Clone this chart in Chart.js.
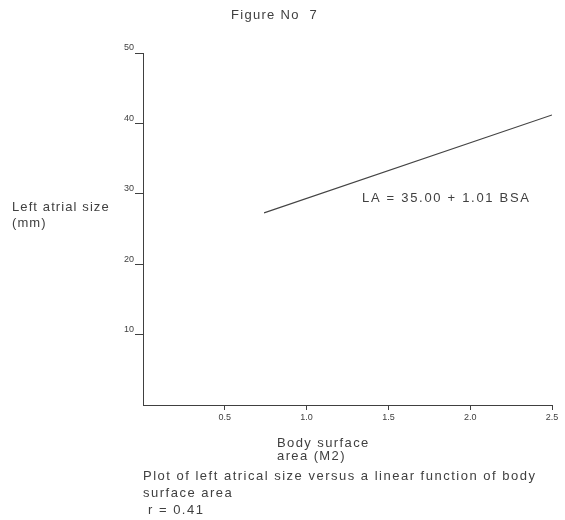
<!DOCTYPE html>
<html>
<head>
<meta charset="utf-8">
<script src="https://cdn.jsdelivr.net/npm/chart.js@4"></script>
<style>
  html, body { margin: 0; padding: 0; background: #fff; }
  #wrap { width: 565px; height: 520px; }
</style>
</head>
<body>
<div id="wrap"><canvas id="myChart" width="565" height="520"></canvas></div>
<script>
// fitted regression line
const lineX = [0.74, 2.5];
const lineY = [27.3, 41.2];

const xTicks = [0.5, 1.0, 1.5, 2.0, 2.5];
const yTicks = [10, 20, 30, 40, 50];

const ink = '#404040';
const font = '"Liberation Sans", Arial, sans-serif';

// loose text of the scanned figure (sp = letter spacing, the scan type runs wide)
const notes = [
  { t: 'Figure No  7', x: 231, y: 15, s: 13, sp: 1.3 },
  { t: 'Left atrial size', x: 12, y: 207, s: 13, sp: 1.1 },
  { t: '(mm)', x: 12, y: 223, s: 13, sp: 1.1 },
  { t: 'LA = 35.00 + 1.01 BSA', x: 362, y: 198, s: 13, sp: 1.7 },
  { t: 'Body surface', x: 277, y: 443, s: 13, sp: 1.4 },
  { t: 'area (M2)', x: 277, y: 456, s: 13, sp: 1.4 },
  { t: 'Plot of left atrical size versus a linear function of body', x: 143, y: 476, s: 13, sp: 1.5 },
  { t: 'surface area', x: 143, y: 493, s: 13, sp: 1.5 },
  { t: 'r = 0.41', x: 148, y: 510, s: 13, sp: 1.5 }
];

const textPlugin = {
  id: 'notes',
  afterDraw(chart) {
    const c = chart.ctx;
    c.save();
    c.fillStyle = ink;
    c.textAlign = 'left';
    c.textBaseline = 'middle';
    notes.forEach(n => {
      c.font = n.s + 'px ' + font;
      c.letterSpacing = n.sp + 'px';
      c.fillText(n.t, n.x, n.y);
    });
    c.restore();
  }
};

const ctx = document.getElementById('myChart').getContext('2d');

new Chart(ctx, {
  type: 'scatter',
  data: {
    datasets: [{
      data: lineX.map((x, i) => ({ x: x, y: lineY[i] })),
      showLine: true,
      borderColor: '#444',
      borderWidth: 1.2,
      pointRadius: 0
    }]
  },
  options: {
    responsive: false,
    animation: false,
    layout: { padding: { left: 103, right: 13, top: 53, bottom: 95 } },
    plugins: { legend: { display: false }, tooltip: { enabled: false } },
    scales: {
      x: {
        type: 'linear',
        min: 0, max: 2.5,
        afterFit: s => { s.height = 20; },
        afterBuildTicks: s => { s.ticks = xTicks.map(v => ({ value: v })); },
        grid: { drawOnChartArea: false, tickLength: 5, color: ink },
        border: { color: ink, width: 1 },
        ticks: {
          color: ink,
          font: { family: font, size: 9 },
          padding: 2,
          maxRotation: 0,
          callback: v => v.toFixed(1)
        }
      },
      y: {
        type: 'linear',
        min: 0, max: 50,
        afterFit: s => { s.width = 40; },
        afterBuildTicks: s => { s.ticks = yTicks.map(v => ({ value: v })); },
        grid: { drawOnChartArea: false, tickLength: 8, color: ink },
        border: { color: ink, width: 1 },
        ticks: {
          color: ink,
          font: { family: font, size: 9 },
          padding: 1,
          labelOffset: -5,
          callback: v => String(v)
        }
      }
    }
  },
  plugins: [textPlugin]
});
</script>
</body>
</html>
